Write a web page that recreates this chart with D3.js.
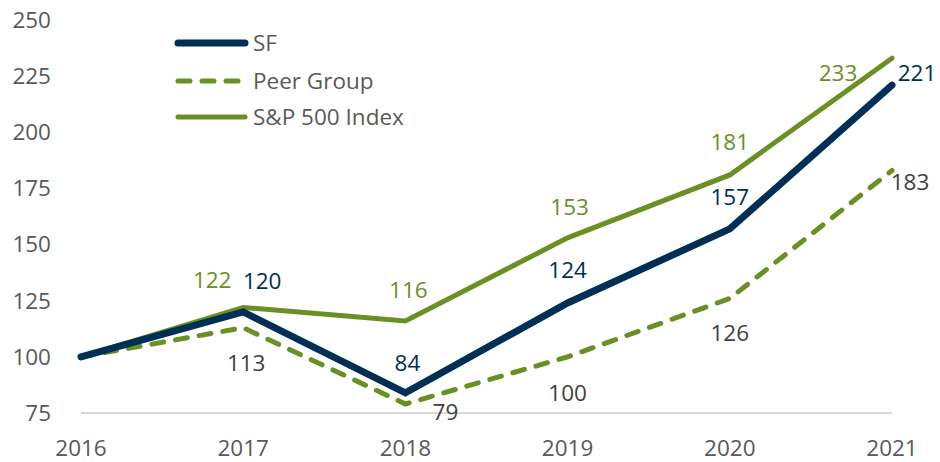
<!DOCTYPE html>
<html>
<head>
<meta charset="utf-8">
<script src="https://cdn.jsdelivr.net/npm/d3@7"></script>
<style>
  body { margin: 0; background: #fff; }
  svg text { font-family: "Open Sans", sans-serif; }
</style>
</head>
<body>
<svg id="chart" width="940" height="462"></svg>
<script>
let years = [2016, 2017, 2018, 2019, 2020, 2021];
let sfValues = [100, 120, 84, 124, 157, 221];
let peerValues = [100, 113, 79, 100, 126, 183];
let spValues = [100, 122, 116, 153, 181, 233];
let yTicks = [75, 100, 125, 150, 175, 200, 225, 250];

// hand-placed label offsets (dx, dy) from each point, 2016 has none
let sfOffsets = [null, [19, -31], [2, -30], [0, -33], [0, -32], [25, -12]];
let peerOffsets = [null, [3, 35], [40, 8], [0, 36], [0, 35], [18, 12]];
let spOffsets = [null, [-31, -27], [3, -31], [2, -31], [0, -33], [-54, 15]];

let fontSize = 22.5;

let svg = d3.select("#chart");

let x = d3.scalePoint().domain(years).range([81, 892]);
let y = d3.scaleLinear().domain([75, 250]).range([413, 20]);

let navy = "#002f56";
let green = "#6a8f22";
let grey = "#595959";

// baseline
svg.append("line")
   .attr("x1", x(2016)).attr("x2", x(2021))
   .attr("y1", y(75)).attr("y2", y(75))
   .attr("stroke", "#d9d9d9").attr("stroke-width", 2);

// y axis labels
svg.selectAll(".ytick")
   .data(yTicks)
   .enter()
   .append("text")
   .attr("x", 51)
   .attr("y", d => y(d))
   .attr("dy", "0.35em")
   .attr("text-anchor", "end")
   .attr("font-size", fontSize)
   .attr("fill", grey)
   .text(d => d);

// x axis labels
svg.selectAll(".xtick")
   .data(years)
   .enter()
   .append("text")
   .attr("x", d => x(d))
   .attr("y", 448)
   .attr("dy", "0.35em")
   .attr("text-anchor", "middle")
   .attr("font-size", fontSize)
   .attr("fill", grey)
   .text(d => d);

let series = [
  {name: "Peer Group", values: peerValues, offsets: peerOffsets, color: green, width: 5, dash: "12,12", labelColor: "#404040"},
  {name: "S&P 500 Index", values: spValues, offsets: spOffsets, color: green, width: 5, dash: null, labelColor: green},
  {name: "SF", values: sfValues, offsets: sfOffsets, color: navy, width: 7, dash: null, labelColor: navy}
];

let line = d3.line()
             .x((d, i) => x(years[i]))
             .y(d => y(d));

for (let s of series) {
  svg.append("path")
     .attr("d", line(s.values))
     .attr("fill", "none")
     .attr("stroke", s.color)
     .attr("stroke-width", s.width)
     .attr("stroke-linecap", "round")
     .attr("stroke-linejoin", "miter")
     .attr("stroke-dasharray", s.dash);
}

for (let s of series) {
  svg.selectAll(null)
     .data(s.values.map((v, i) => ({v: v, i: i})).filter(d => s.offsets[d.i]))
     .enter()
     .append("text")
     .attr("x", d => x(years[d.i]) + s.offsets[d.i][0])
     .attr("y", d => y(d.v) + s.offsets[d.i][1])
     .attr("dy", "0.35em")
     .attr("text-anchor", "middle")
     .attr("font-size", fontSize)
     .attr("fill", s.labelColor)
     .text(d => d.v);
}

// legend
let legendItems = [
  {name: "SF", color: navy, width: 7, dash: null, y: 43},
  {name: "Peer Group", color: green, width: 5, dash: "12,12", y: 81},
  {name: "S&P 500 Index", color: green, width: 5, dash: null, y: 117}
];

let legend = svg.selectAll(".legend")
                .data(legendItems)
                .enter()
                .append("g");

legend.append("line")
      .attr("x1", 178).attr("x2", 245)
      .attr("y1", d => d.y).attr("y2", d => d.y)
      .attr("stroke", d => d.color)
      .attr("stroke-width", d => d.width)
      .attr("stroke-linecap", "round")
      .attr("stroke-dasharray", d => d.dash);

legend.append("text")
      .attr("x", 253)
      .attr("y", d => d.y)
      .attr("dy", "0.35em")
      .attr("font-size", fontSize)
      .attr("fill", grey)
      .text(d => d.name);
</script>
</body>
</html>
